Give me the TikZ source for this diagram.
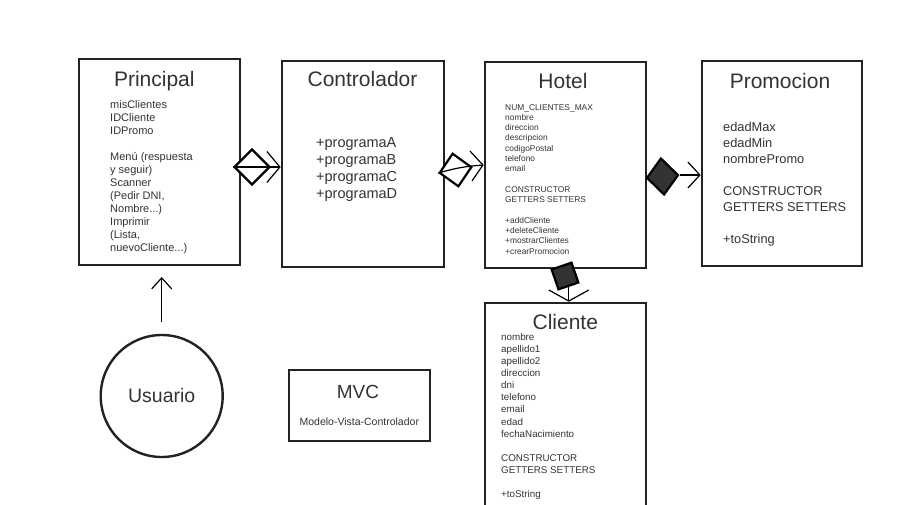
\documentclass[tikz,border=0pt]{standalone}
\usepackage{fontspec}
\setmainfont{Liberation Sans}
\usetikzlibrary{shapes.geometric,arrows.meta}
\definecolor{ink}{HTML}{222222}
\definecolor{txt}{HTML}{333333}
\begin{document}
\begin{tikzpicture}[x=1pt,y=-1pt,
  box/.style={draw=ink, line width=2.6pt, inner sep=0pt},
  ttl/.style={anchor=base, inner sep=0pt, text=txt, font=\fontsize{21}{25}\selectfont},
  body/.style={anchor=north west, inner sep=0pt, align=left, text=txt},
  dia/.style={diamond, draw=black, line width=2.2pt, inner sep=0pt, fill=white},
  dfill/.style={draw=black, line width=2.2pt, inner sep=0pt, fill=black!80},
  conn/.style={draw=black, line width=1.2pt}
]
\useasboundingbox (0,0) rectangle (904,504);
\fill[white] (0,0) rectangle (904,504);
\clip (0,0) rectangle (904,504);

% boxes
\node[box, minimum width=161pt, minimum height=206pt] (P) at (159.5,162) {};
\node[box, minimum width=162pt, minimum height=206pt] (C) at (363,164) {};
\node[box, minimum width=161pt, minimum height=206pt] (H) at (565.5,165) {};
\node[box, minimum width=160pt, minimum height=205pt] (Pr) at (782,163.5) {};
\node[box, minimum width=161pt, minimum height=257pt] (CL) at (565.5,431.5) {};
\node[box, minimum width=141pt, minimum height=71pt] (M) at (359.5,405.5) {};
\node[circle, draw=ink, line width=2.4pt, minimum size=122pt, inner sep=0pt, text=txt,
      font=\fontsize{19.5}{23}\selectfont] (U) at (161.7,396) {Usuario};

% titles
\node[ttl] (Pt) at (154.3,86.7) {Principal};
\node[ttl] (Ct) at (362.5,86.7) {Controlador};
\node[ttl] (Ht) at (563,88.3) {Hotel};
\node[ttl] (Prt) at (780,88.3) {Promocion};
\node[ttl] (CLt) at (565.3,329.3) {Cliente};
\node[ttl, font=\fontsize{19}{23}\selectfont] (Mt) at (358,398.3) {MVC};
\node[ttl, font=\fontsize{10.5}{12}\selectfont] (Ms) at (359.3,425.3) {Modelo-Vista-Controlador};

% bodies
\node[body, font=\fontsize{11}{13}\selectfont] (Pb) at (110,100.6)
  {misClientes\\IDCliente\\IDPromo\\[13pt]Menú (respuesta\\y seguir)\\Scanner\\(Pedir DNI,\\Nombre...)\\Imprimir\\(Lista,\\nuevoCliente...)};
\node[body, font=\fontsize{14.5}{16.9}\selectfont] (Cb) at (316,137.5)
  {+programaA\\+programaB\\+programaC\\+programaD};
\node[body, font=\fontsize{8.4}{10.3}\selectfont] (Hb) at (505,104)
  {NUM\_CLIENTES\_MAX\\nombre\\direccion\\descripcion\\codigoPostal\\telefono\\email\\[10.3pt]CONSTRUCTOR\\GETTERS SETTERS\\[10.3pt]+addCliente\\+deleteCliente\\+mostrarClientes\\+crearPromocion};
\node[body, font=\fontsize{12.8}{16}\selectfont] (Prb) at (723,121.8)
  {edadMax\\edadMin\\nombrePromo\\[16pt]CONSTRUCTOR\\GETTERS SETTERS\\[16pt]+toString};
\node[body, font=\fontsize{9.8}{12.1}\selectfont] (CLb) at (501,333)
  {nombre\\apellido1\\apellido2\\direccion\\dni\\telefono\\email\\edad\\fechaNacimiento\\[12.1pt]CONSTRUCTOR\\GETTERS SETTERS\\[12.1pt]+toString};

% connectors
\node[dia, minimum width=36pt, minimum height=36pt] (d1) at (252,167) {};
\draw[conn, -{Straight Barb[length=13pt,width=31pt]}] (d1.west) -- (d1.west -| C.west);

\node[dia, minimum width=33pt, minimum height=34pt, rotate=10] (d2) at (455.5,170) {};
\draw[conn, -{Straight Barb[length=12pt,width=30pt]}] (d2.west) to[bend left=6] (H.west);

\node[diamond, dfill, minimum width=32pt, minimum height=37pt, rotate=5] (d3) at (662.5,176.5) {};
\draw[conn, -{Straight Barb[length=12pt,width=26pt]}] (d3.east) -- (d3.east -| Pr.west);

\node[dfill, rectangle, minimum width=21pt, minimum height=21pt, rotate=19] (d4) at (565,276) {};
\draw[conn, -{Straight Barb[length=11pt,width=40pt]}] (d4.south) -- (d4.south |- CL.north);

\draw[conn, -{Straight Barb[length=11pt,width=20pt]}, shorten <=12pt, shorten >=10.7pt]
  (U.north) -- (U.north |- P.south);
\end{tikzpicture}
\end{document}
